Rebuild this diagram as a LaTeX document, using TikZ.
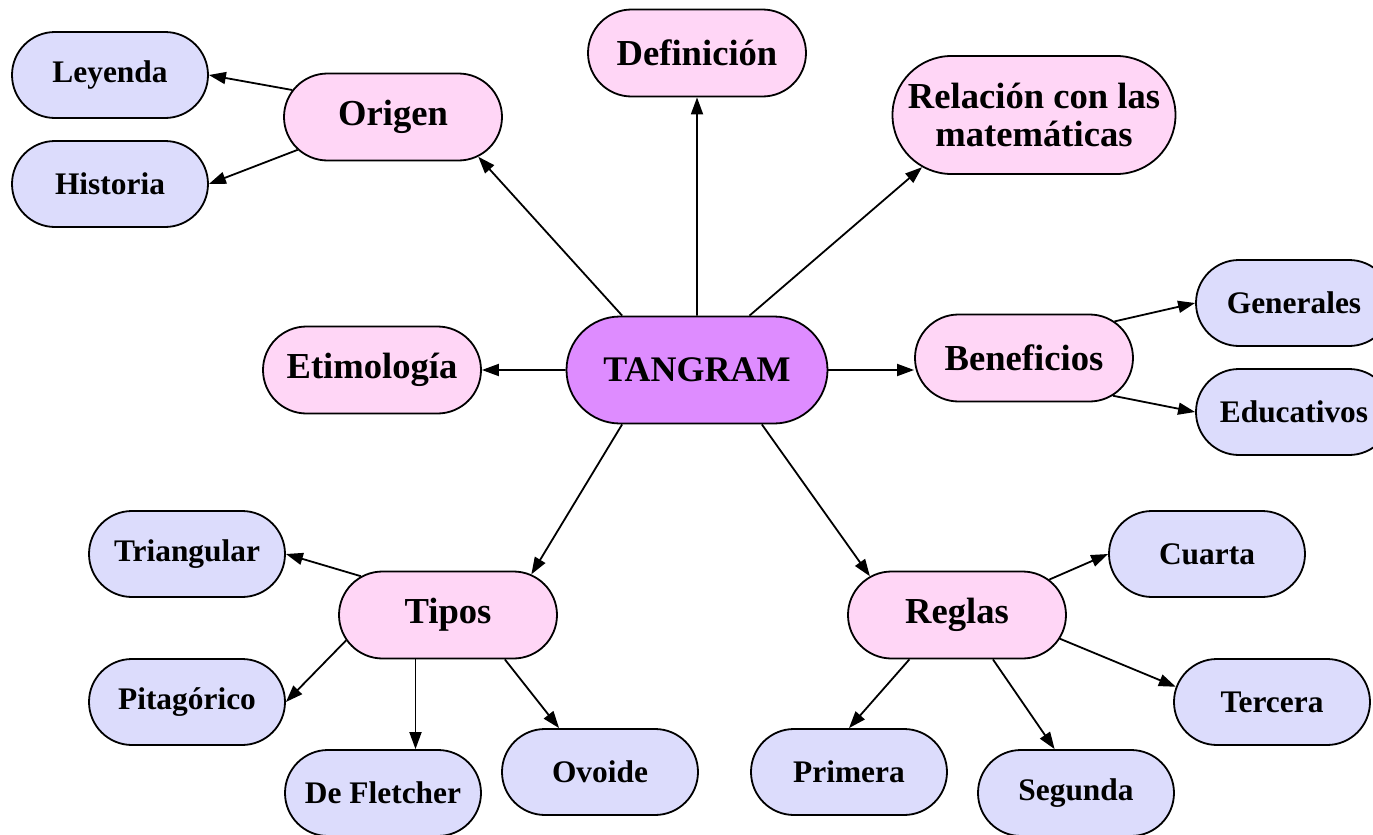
\documentclass[tikz,border=0pt]{standalone}
\usepackage{fontspec}
\setmainfont{Liberation Serif}
\usetikzlibrary{positioning}
\usetikzlibrary{calc}
\usetikzlibrary{shapes.misc}
\usetikzlibrary{arrows.meta}
\definecolor{mpurple}{RGB}{222,140,255}
\definecolor{mpink}{RGB}{255,214,246}
\definecolor{mlav}{RGB}{220,220,252}

\begin{document}
\begin{tikzpicture}[x=0.5pt, y=-0.5pt,
    box/.style={draw, line width=0.9pt, rounded rectangle, inner sep=0pt, align=center},
    main/.style={box, fill=mpurple, minimum width=130.5pt, minimum height=53.5pt, font=\fontsize{18}{20}\selectfont\bfseries},
    topic/.style={box, fill=mpink, minimum width=109pt, minimum height=43.5pt, font=\fontsize{18.3}{19}\selectfont\bfseries},
    leaf/.style={box, fill=mlav, minimum width=98pt, minimum height=43pt, font=\fontsize{15.7}{17}\selectfont\bfseries},
    arrow/.style={-{Triangle[length=8.5pt,width=6pt]}, line width=0.9pt},
]
\useasboundingbox (0,0) rectangle (1373,835);

\node[main] (tangram) at (697,370) {TANGRAM};

\node[topic] (definicion) at (697,53) {Definición};
\node[topic] (origen) at (393,117) {Origen};
\node[topic, minimum width=141.5pt, minimum height=59pt] (relacion) at (1034,115) {Relación con las\\matemáticas};
\node[topic] (etimologia) at (372,370) {Etimología};
\node[topic] (beneficios) at (1024,358) {Beneficios};
\node[topic] (tipos) at (448,615) {Tipos};
\node[topic] (reglas) at (957,615) {Reglas};

\node[leaf] (leyenda) at (110,75) {Leyenda};
\node[leaf] (historia) at (110,184) {Historia};
\node[leaf] (generales) at (1294,303) {Generales};
\node[leaf] (educativos) at (1294,412) {Educativos};
\node[leaf] (triangular) at (187,554) {Triangular};
\node[leaf] (pitagorico) at (187,702) {Pitagórico};
\node[leaf] (fletcher) at (383,793) {De Fletcher};
\node[leaf] (ovoide) at (600,772) {Ovoide};
\node[leaf] (cuarta) at (1207,554) {Cuarta};
\node[leaf] (tercera) at (1272,702) {Tercera};
\node[leaf] (primera) at (849,772) {Primera};
\node[leaf] (segunda) at (1076,793) {Segunda};

\draw[arrow] (tangram) -- (definicion);
\draw[arrow] (tangram.144) -- (origen.-25);
\draw[arrow] (tangram.46) -- (relacion.-155);
\draw[arrow] (tangram) -- (etimologia);
\draw[arrow] (tangram.east) -- (tangram.east -| beneficios.west);
\draw[arrow] (tangram.-144) -- (tipos.26);
\draw[arrow] (tangram.-40) -- (reglas.156);

\draw[arrow] (origen.165) -- (leyenda.east);
\draw[arrow] (origen.-161) -- (historia.east);
\draw[arrow] (beneficios.22) -- (generales.west);
\draw[arrow] (beneficios.-23) -- (educativos.west);

\coordinate (tf_mid) at ($(tipos.center)!0.5!(fletcher.center)$);
\draw[arrow] (tipos.156) -- (triangular.east);
\draw[arrow] (tipos.-166) -- (pitagorico.east);
\draw[arrow] (tipos.south -| tf_mid) -- (fletcher.north -| tf_mid);
\draw[arrow] (tipos.-38) -- (ovoide.133);

\draw[arrow] (reglas.21) -- (cuarta.west);
\draw[arrow] (reglas.-13) -- (tercera.171);
\draw[arrow] (reglas.-137) -- (primera.north);
\draw[arrow] (reglas.-51) -- (segunda.116);

\end{tikzpicture}
\end{document}
